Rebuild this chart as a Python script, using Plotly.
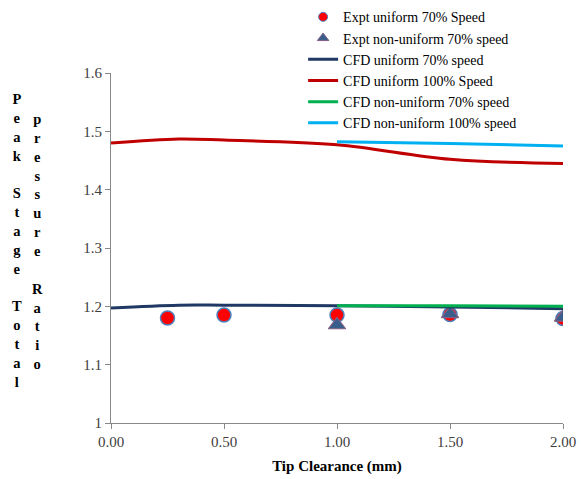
import plotly.graph_objects as go

# Data
expt_uni_x = [0.25, 0.5, 1.0, 1.5, 2.0]
expt_uni_y = [1.180, 1.185, 1.185, 1.186, 1.179]
expt_non_x = [1.0, 1.5, 2.0]
expt_non_y = [1.168, 1.187, 1.181]
cfd_uni70_x = [0.0, 0.3, 0.5, 1.0, 1.5, 2.0]
cfd_uni70_y = [1.197, 1.202, 1.202, 1.201, 1.199, 1.196]
cfd_uni100_x = [0.0, 0.3, 0.5, 1.0, 1.5, 2.0]
cfd_uni100_y = [1.480, 1.487, 1.485, 1.477, 1.452, 1.445]
cfd_non70_x = [1.0, 1.5, 2.0]
cfd_non70_y = [1.201, 1.201, 1.200]
cfd_non100_x = [1.0, 1.5, 2.0]
cfd_non100_y = [1.482, 1.479, 1.475]

y_title_col1 = "Peak Stage Total"
y_title_col2 = "pressure Ratio"

FONT = "Liberation Serif, Times New Roman, serif"

uni_marker = dict(symbol="circle", color="#FF0000", line=dict(color="#4F81BD", width=1.5))
non_marker = dict(symbol="triangle-up", color="#3A5E8C", line=dict(color="#7F6084", width=1.2))

fig = go.Figure()
# legend entries (smaller legend symbols, as in the reference)
fig.add_trace(go.Scatter(x=[None], y=[None], mode="markers", name="Expt uniform 70% Speed",
                         marker=dict(size=9, symbol="circle", color="#FF0000",
                                     line=dict(color="#4F81BD", width=1))))
fig.add_trace(go.Scatter(x=[None], y=[None], mode="markers", name="Expt non-uniform 70% speed",
                         marker=dict(size=10, symbol="triangle-up", color="#3A5E8C",
                                     line=dict(color="#7F6084", width=1))))
fig.add_trace(go.Scatter(x=expt_uni_x, y=expt_uni_y, mode="markers", name="Expt uniform 70% Speed",
                         showlegend=False, marker=dict(size=14, **uni_marker)))
fig.add_trace(go.Scatter(x=expt_non_x, y=expt_non_y, mode="markers", name="Expt non-uniform 70% speed",
                         showlegend=False, marker=dict(size=15, **non_marker)))
fig.add_trace(go.Scatter(x=cfd_uni70_x, y=cfd_uni70_y, mode="lines", name="CFD uniform 70% speed",
                         line=dict(color="#1F3864", width=3, shape="spline")))
fig.add_trace(go.Scatter(x=cfd_uni100_x, y=cfd_uni100_y, mode="lines", name="CFD uniform 100% Speed",
                         line=dict(color="#C00000", width=3, shape="spline")))
fig.add_trace(go.Scatter(x=cfd_non70_x, y=cfd_non70_y, mode="lines", name="CFD non-uniform 70% speed",
                         line=dict(color="#00B050", width=3, shape="spline")))
fig.add_trace(go.Scatter(x=cfd_non100_x, y=cfd_non100_y, mode="lines", name="CFD non-uniform 100% speed",
                         line=dict(color="#00B0F0", width=3, shape="spline")))

def stack(s):
    return "<br>".join(ch if ch != " " else "&nbsp;" for ch in s)

fig.add_annotation(xref="paper", yref="paper", x=-0.207, y=0.953, xanchor="center", yanchor="top",
                   text="<b>" + stack(y_title_col1) + "</b>", showarrow=False, align="center",
                   font=dict(family=FONT, size=14.5, color="#000000"))
fig.add_annotation(xref="paper", yref="paper", x=-0.162, y=0.896, xanchor="center", yanchor="top",
                   text="<b>" + stack(y_title_col2) + "</b>", showarrow=False, align="center",
                   font=dict(family=FONT, size=14.5, color="#000000"))

fig.update_layout(
    width=581, height=479,
    margin=dict(l=111, r=18, t=73, b=56, autoexpand=False),
    paper_bgcolor="white", plot_bgcolor="white",
    font=dict(family=FONT, size=15, color="#404040"),
    showlegend=True,
    legend=dict(x=0.425, y=1.205, xanchor="left", yanchor="top", bgcolor="rgba(0,0,0,0)",
                font=dict(family=FONT, size=14, color="#000000"), tracegroupgap=0,
                itemwidth=30),
    xaxis=dict(range=[0, 2], tickvals=[0, 0.5, 1.0, 1.5, 2.0], tickformat=".2f",
               showgrid=False, zeroline=False, showline=True, linecolor="#888888", linewidth=1,
               ticks="outside", tickcolor="#888888", ticklen=5, ticklabeloverflow="allow",
               title=dict(text="<b>Tip Clearance (mm)</b>", font=dict(family=FONT, size=15, color="#000000"),
                          standoff=11)),
    yaxis=dict(range=[1.0, 1.6], tickvals=[1.0, 1.1, 1.2, 1.3, 1.4, 1.5, 1.6],
               ticktext=["1", "1.1", "1.2", "1.3", "1.4", "1.5", "1.6"],
               showgrid=False, zeroline=False, showline=True, linecolor="#888888", linewidth=1,
               ticks="outside", tickcolor="#888888", ticklen=5),
)

fig.write_html("out.html", config={"displayModeBar": False},
               post_script="document.body.style.margin='0';")
